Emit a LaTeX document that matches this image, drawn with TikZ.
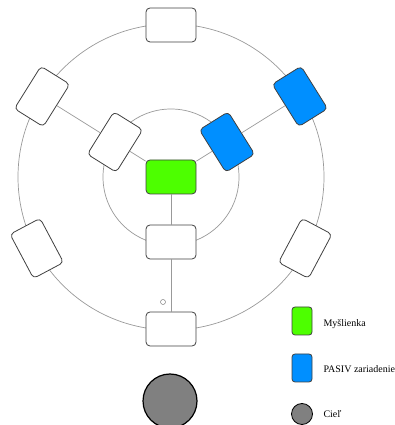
\documentclass[tikz,border=0pt]{standalone}
\usepackage{fontspec}
\setmainfont{Liberation Serif}
\usetikzlibrary{calc}
\definecolor{idea}{RGB}{77,255,0}
\definecolor{pasiv}{RGB}{0,143,255}

\begin{document}
\begin{tikzpicture}[x=1pt, y=1pt,
    level/.style={rectangle, rounded corners=4pt, draw=black!75, line width=0.8pt, fill=white, minimum width=50pt, minimum height=34pt, inner sep=0pt},
    ring/.style={draw=black!40, line width=0.7pt},
    goal/.style={circle, draw=black, line width=1.2pt, fill=black!50, inner sep=0pt}]
    \useasboundingbox (0, 0) rectangle (394, 425);

    \coordinate (c) at (171, 248);
    \draw[ring] (c) circle (153);
    \draw[ring] (c) circle (68);

    \node[level, fill=idea] (d-0) at (c) {};
    \node[level] (d-1) at ($(c)+(0,-65)$) {};
    \node[level] (d-2) at ($(c)+(0,-152)$) {};
    \node[level] (d-3) at ($(c)+(90:152)$) {};

    \node[level, rotate=58] (l-1) at ($(c)+(148:66)$) {};
    \node[level, rotate=58] (l-2) at ($(c)+(148:152)$) {};
    \node[level, fill=pasiv, rotate=-58] (r-1) at ($(c)+(32:66)$) {};
    \node[level, fill=pasiv, rotate=-58] (r-2) at ($(c)+(32:152)$) {};

    \node[level, rotate=118] (l-3) at ($(c)+(208:152)$) {};
    \node[level, rotate=62] (r-3) at ($(c)+(332:152)$) {};

    \draw[ring] (d-0) -- (d-1);
    \draw[ring] (d-1) -- (d-2);
    \draw[ring] (d-0) -- (l-1);
    \draw[ring] (l-1) -- (l-2);
    \draw[ring] (d-0) -- (r-1);
    \draw[ring] (r-1) -- (r-2);

    \node[circle, draw=black!50, line width=0.5pt, minimum size=5pt, inner sep=0pt] (dot) at (163, 123) {};

    \node[goal, minimum size=54pt] (goal) at (170, 24) {};

    % legenda
    \node[level, fill=idea, rounded corners=3pt, minimum width=20pt, minimum height=28pt] (k-0) at (302, 104) {};
    \node[level, fill=pasiv, rounded corners=3pt, minimum width=20pt, minimum height=28pt] (k-1) at (302, 57) {};
    \node[goal, line width=0.8pt, minimum size=21pt] (k-2) at (302, 11) {};

    \node[anchor=west, font=\fontsize{10}{12}\selectfont] (t-0) at (320, 101) {Myšlienka};
    \node[anchor=west, font=\fontsize{10}{12}\selectfont] (t-1) at (320, 56) {PASIV zariadenie};
    \node[anchor=west, font=\fontsize{10}{12}\selectfont] (t-2) at (320, 11) {Cieľ};
\end{tikzpicture}
\end{document}
